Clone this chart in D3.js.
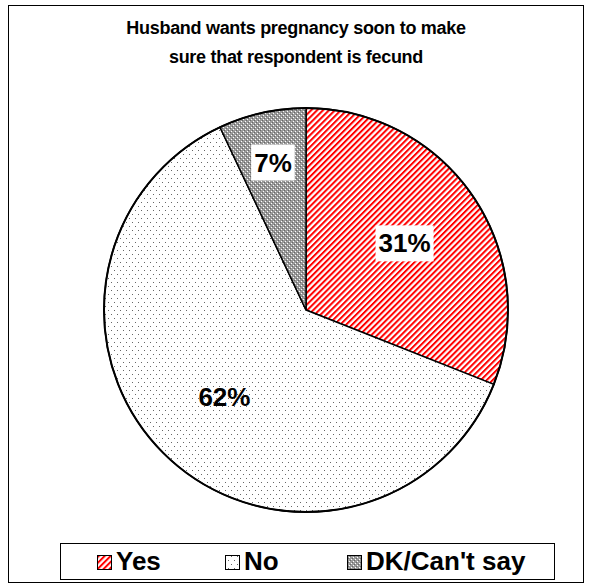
<!DOCTYPE html>
<html>
<head>
<meta charset="utf-8">
<script src="https://cdn.jsdelivr.net/npm/d3@7/dist/d3.min.js"></script>
<style>
  html, body { margin: 0; padding: 0; background: #fff; }
  svg { display: block; }
  text { font-family: "Liberation Sans", Arial, sans-serif; font-weight: bold; fill: #000; }
</style>
</head>
<body>
<svg id="chart" width="591" height="588"></svg>
<script>
const titleLines = ["Husband wants pregnancy soon to make", "sure that respondent is fecund"];
const categories = ["Yes", "No", "DK/Can't say"];
const values = [31, 62, 7];
const labels = ["31%", "62%", "7%"];
const patternIds = ["pYes", "pNo", "pDK"];

const W = 591, H = 588;
const svg = d3.select("#chart");
const defs = svg.append("defs");

// Red diagonal hatch
const pY = defs.append("pattern").attr("id", "pYes").attr("patternUnits", "userSpaceOnUse")
  .attr("width", 4.2).attr("height", 4.2).attr("patternTransform", "rotate(45)");
pY.append("rect").attr("width", 4.2).attr("height", 4.2).attr("fill", "#fff");
pY.append("rect").attr("x", 0).attr("width", 2).attr("height", 4.2).attr("fill", "#ff0000");

// Sparse gray dots
const pN = defs.append("pattern").attr("id", "pNo").attr("patternUnits", "userSpaceOnUse")
  .attr("width", 6).attr("height", 8);
pN.append("rect").attr("width", 6).attr("height", 8).attr("fill", "#fff");
pN.append("rect").attr("x", 0).attr("y", 0).attr("width", 1).attr("height", 1).attr("fill", "#666");
pN.append("rect").attr("x", 3).attr("y", 4).attr("width", 1).attr("height", 1).attr("fill", "#666");

// Gray checker
const pD = defs.append("pattern").attr("id", "pDK").attr("patternUnits", "userSpaceOnUse")
  .attr("width", 4).attr("height", 4);
pD.append("rect").attr("width", 4).attr("height", 4).attr("fill", "#9a9a9a");
pD.append("rect").attr("x", 1).attr("y", 1).attr("width", 1).attr("height", 1).attr("fill", "#fff");
pD.append("rect").attr("x", 3).attr("y", 3).attr("width", 1).attr("height", 1).attr("fill", "#fff");
pD.append("rect").attr("x", 0).attr("y", 2).attr("width", 1).attr("height", 1).attr("fill", "#666");
pD.append("rect").attr("x", 2).attr("y", 0).attr("width", 1).attr("height", 1).attr("fill", "#666");

// Outer frame
svg.append("rect").attr("x", 8.5).attr("y", 5.5).attr("width", 575).attr("height", 577)
  .attr("fill", "#fff").attr("stroke", "#000").attr("stroke-width", 1);

// Title
svg.append("g").selectAll("text").data(titleLines).join("text")
  .attr("x", 296).attr("y", (d, i) => 34 + i * 29)
  .attr("text-anchor", "middle").attr("font-size", 18).attr("letter-spacing", "-0.3px")
  .text(d => d);

// Pie
const cx = 306, cy = 310, R = 202;
const pie = d3.pie().sort(null).value(d => d)(values);
const arc = d3.arc().innerRadius(0).outerRadius(R);
const g = svg.append("g").attr("transform", `translate(${cx},${cy})`);
g.selectAll("path").data(pie).join("path")
  .attr("d", arc)
  .attr("fill", (d, i) => `url(#${patternIds[i]})`)
  .attr("stroke", "#000").attr("stroke-width", 1.5).attr("stroke-linejoin", "round");
g.append("circle").attr("r", R).attr("fill", "none").attr("stroke", "#000").attr("stroke-width", 2);

// Labels
const lg = g.append("g");
pie.forEach((d, i) => {
  const span = d.endAngle - d.startAngle;
  const lr = span < 0.6 ? R * 0.75 : R * 0.59;
  const a = (d.startAngle + d.endAngle) / 2;
  const x = Math.sin(a) * lr, y = -Math.cos(a) * lr;
  const t = lg.append("text").attr("x", x).attr("y", y).attr("dy", "0.36em")
    .attr("text-anchor", "middle").attr("font-size", 26).text(labels[i]);
  if (i !== 1) {
    const bb = t.node().getBBox();
    lg.insert("rect", "text").attr("x", bb.x - 3).attr("y", bb.y - 3)
      .attr("width", bb.width + 6).attr("height", bb.height + 6).attr("fill", "#fff");
  }
});

// Legend
const legX = 60, legY = 543, legW = 494, legH = 36;
svg.append("rect").attr("x", legX + 0.5).attr("y", legY + 0.5).attr("width", legW).attr("height", legH)
  .attr("fill", "#fff").attr("stroke", "#000").attr("stroke-width", 1);
const itemX = [97, 225, 347];
const leg = svg.append("g");
categories.forEach((c, i) => {
  leg.append("rect").attr("x", itemX[i] + 0.5).attr("y", legY + 12.5).attr("width", 14).attr("height", 14)
    .attr("fill", `url(#${patternIds[i]})`).attr("stroke", "#000").attr("stroke-width", 1);
  leg.append("text").attr("x", itemX[i] + 19).attr("y", legY + 27)
    .attr("font-size", 26).text(c);
});
</script>
</body>
</html>
